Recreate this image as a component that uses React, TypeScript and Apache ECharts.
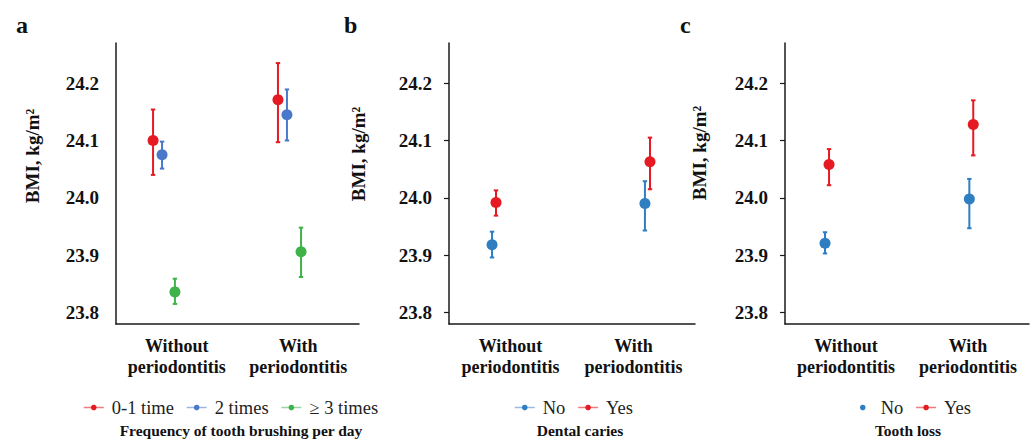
import React, { useEffect, useRef } from 'react';
import * as echarts from 'echarts';

// ---------- data ----------
const categories = ['Without periodontitis', 'With periodontitis'];
const yTicks = [23.8, 23.9, 24.0, 24.1, 24.2];

// Panel a: frequency of tooth brushing per day
const brushGroups = ['0-1 time', '2 times', '\u2265 3 times'];
const brush01Mean = [24.1, 24.171];
const brush01Low = [24.04, 24.097];
const brush01High = [24.154, 24.235];
const brush2Mean = [24.075, 24.145];
const brush2Low = [24.051, 24.1];
const brush2High = [24.098, 24.189];
const brush3Mean = [23.836, 23.906];
const brush3Low = [23.815, 23.862];
const brush3High = [23.859, 23.948];

// Panel b: dental caries
const cariesGroups = ['No', 'Yes'];
const cariesNoMean = [23.918, 23.99];
const cariesNoLow = [23.896, 23.943];
const cariesNoHigh = [23.941, 24.029];
const cariesYesMean = [23.992, 24.063];
const cariesYesLow = [23.969, 24.015];
const cariesYesHigh = [24.013, 24.105];

// Panel c: tooth loss
const lossGroups = ['No', 'Yes'];
const lossNoMean = [23.921, 23.998];
const lossNoLow = [23.903, 23.947];
const lossNoHigh = [23.94, 24.033];
const lossYesMean = [24.058, 24.128];
const lossYesLow = [24.022, 24.074];
const lossYesHigh = [24.085, 24.17];

// ---------- layout / style ----------
const FONT = 'Liberation Serif';
const RED = '#E61A22';
const RED_LIGHT = '#F07A7E';
const BLUE_A = '#4A79CC';
const BLUE_A_LIGHT = '#9DB6E4';
const GREEN = '#3FB34A';
const GREEN_LIGHT = '#9AD6A0';
const BLUE = '#2E7EC1';
const BLUE_LIGHT = '#93BDE2';

const GRID_TOP = 43;
const GRID_HEIGHT = 281;

// horizontal dodge of each group within a category (in category units)
const dodge = {
  a: [[-0.195, -0.167], [-0.121, -0.093], [-0.015, 0.023]],
  b: [[-0.15, 0.093], [-0.118, 0.134]],
  c: [[-0.172, 0.011], [-0.139, 0.043]],
};

type Group = {
  name: string;
  mean: number[];
  low: number[];
  high: number[];
  color: string;
  light: string;
  dx: number[];
  noLegendLine?: boolean;
};

const panels: {
  key: string;
  left: number;
  width: number;
  ticks: boolean;
  legendLeft: number;
  subtitle: string;
  subtitleX: number;
  letterX: number;
  nameX: number;
  nameY: number;
  groups: Group[];
}[] = [
  {
    key: 'a', left: 116, width: 243, ticks: false, legendLeft: 78,
    subtitle: 'Frequency of tooth brushing per day', subtitleX: 241, letterX: 16, nameX: 32, nameY: 156,
    groups: [
      { name: brushGroups[0], mean: brush01Mean, low: brush01Low, high: brush01High, color: RED, light: RED_LIGHT, dx: dodge.a[0] },
      { name: brushGroups[1], mean: brush2Mean, low: brush2Low, high: brush2High, color: BLUE_A, light: BLUE_A_LIGHT, dx: dodge.a[1] },
      { name: brushGroups[2], mean: brush3Mean, low: brush3Low, high: brush3High, color: GREEN, light: GREEN_LIGHT, dx: dodge.a[2] },
    ],
  },
  {
    key: 'b', left: 449, width: 246, ticks: true, legendLeft: 509,
    subtitle: 'Dental caries', subtitleX: 580, letterX: 344, nameX: 358, nameY: 154,
    groups: [
      { name: cariesGroups[0], mean: cariesNoMean, low: cariesNoLow, high: cariesNoHigh, color: BLUE, light: BLUE_LIGHT, dx: dodge.b[0] },
      { name: cariesGroups[1], mean: cariesYesMean, low: cariesYesLow, high: cariesYesHigh, color: RED, light: RED_LIGHT, dx: dodge.b[1] },
    ],
  },
  {
    key: 'c', left: 785, width: 244, ticks: true, legendLeft: 847,
    subtitle: 'Tooth loss', subtitleX: 908, letterX: 680, nameX: 699, nameY: 153,
    groups: [
      { name: lossGroups[0], mean: lossNoMean, low: lossNoLow, high: lossNoHigh, color: BLUE, light: BLUE_LIGHT, dx: dodge.c[0], noLegendLine: true },
      { name: lossGroups[1], mean: lossYesMean, low: lossYesLow, high: lossYesHigh, color: RED, light: RED_LIGHT, dx: dodge.c[1] },
    ],
  },
];

function buildOption() {
  const grid: any[] = [];
  const xAxis: any[] = [];
  const yAxis: any[] = [];
  const series: any[] = [];
  const legend: any[] = [];
  const graphic: any[] = [];

  panels.forEach((p, i) => {
    grid.push({ left: p.left, top: GRID_TOP, width: p.width, height: GRID_HEIGHT });
    xAxis.push({
      type: 'category', gridIndex: i, data: categories, boundaryGap: true,
      axisLine: { show: true, onZero: false, lineStyle: { color: '#1a1a1a', width: 1.5 } },
      axisTick: { show: false },
      axisLabel: {
        interval: 0,
        formatter: (v: string) => v.replace(' ', '\n'),
        fontFamily: FONT, fontWeight: 'bold', fontSize: 18, lineHeight: 21, color: '#111', margin: 11,
      },
      splitLine: { show: false },
    });
    xAxis.push({ type: 'value', gridIndex: i, min: -0.5, max: 1.5, show: false });
    yAxis.push({
      type: 'value', gridIndex: i, min: 23.78, max: 24.27,
      axisLine: { show: true, onZero: false, lineStyle: { color: '#1a1a1a', width: 1.5 } },
      axisTick: { show: p.ticks, customValues: yTicks, length: 5, lineStyle: { color: '#1a1a1a', width: 1.2 } },
      axisLabel: {
        customValues: yTicks,
        formatter: (v: number) => v.toFixed(1),
        fontFamily: FONT, fontWeight: 'bold', fontSize: 19, color: '#111', margin: 17,
      },
      splitLine: { show: false },
    });

    const legendData: any[] = [];
    p.groups.forEach((g) => {
      const sname = p.key + '|' + g.name;
      series.push({
        type: 'line', name: sname, xAxisIndex: 2 * i + 1, yAxisIndex: i,
        data: g.mean.map((m, c) => [c + g.dx[c], m]),
        symbol: 'circle', symbolSize: 11,
        itemStyle: { color: g.color },
        lineStyle: { opacity: 0, color: g.light },
        z: 4,
      });
      series.push({
        type: 'custom', name: sname + '-err', xAxisIndex: 2 * i + 1, yAxisIndex: i,
        silent: true, z: 3,
        encode: { x: 0, y: [1, 2, 3] },
        data: g.mean.map((m, c) => [c + g.dx[c], m, g.low[c], g.high[c]]),
        renderItem: (params: any, api: any) => {
          const x = api.value(0);
          const lo = api.coord([x, api.value(2)]);
          const hi = api.coord([x, api.value(3)]);
          const cap = 2.2;
          const style = { stroke: g.color, lineWidth: 2 };
          return {
            type: 'group',
            children: [
              { type: 'line', shape: { x1: lo[0], y1: lo[1], x2: hi[0], y2: hi[1] }, style },
              { type: 'line', shape: { x1: lo[0] - cap, y1: lo[1], x2: lo[0] + cap, y2: lo[1] }, style },
              { type: 'line', shape: { x1: hi[0] - cap, y1: hi[1], x2: hi[0] + cap, y2: hi[1] }, style },
            ],
          };
        },
      });
      legendData.push({
        name: sname,
        lineStyle: { opacity: g.noLegendLine ? 0 : 1, color: g.light, width: 1.5 },
      });
    });

    legend.push({
      data: legendData, left: p.legendLeft, top: 393, orient: 'horizontal',
      itemWidth: 20, itemHeight: 7, itemGap: 12,
      formatter: (n: string) => n.split('|')[1],
      textStyle: { fontFamily: FONT, fontSize: 18.5, color: '#222', padding: [0, 0, 0, 3] },
      selectedMode: false,
    });

    graphic.push({
      type: 'text', left: p.letterX, top: 13,
      style: { text: p.key, font: `bold 24px ${FONT}`, fill: '#111' },
    });
    graphic.push({
      type: 'text', x: p.nameX, y: p.nameY, rotation: Math.PI / 2,
      style: { text: 'BMI, kg/m\u00B2', font: `bold 19px ${FONT}`, fill: '#111', align: 'center', verticalAlign: 'middle' },
    });
    graphic.push({
      type: 'text', x: p.subtitleX, y: 430,
      style: { text: p.subtitle, font: `bold 15.5px ${FONT}`, fill: '#111', align: 'center', verticalAlign: 'middle' },
    });
  });

  return {
    animation: false,
    backgroundColor: '#ffffff',
    textStyle: { fontFamily: FONT },
    grid, xAxis, yAxis, series, legend, graphic,
  };
}

export default function App() {
  const ref = useRef<HTMLDivElement>(null);
  useEffect(() => {
    document.body.style.margin = '0';
    if (!ref.current) return;
    const chart = echarts.init(ref.current, undefined, { renderer: 'svg' });
    chart.setOption(buildOption() as any);
    return () => chart.dispose();
  }, []);
  return <div ref={ref} style={{ width: 1033, height: 440 }} />;
}
